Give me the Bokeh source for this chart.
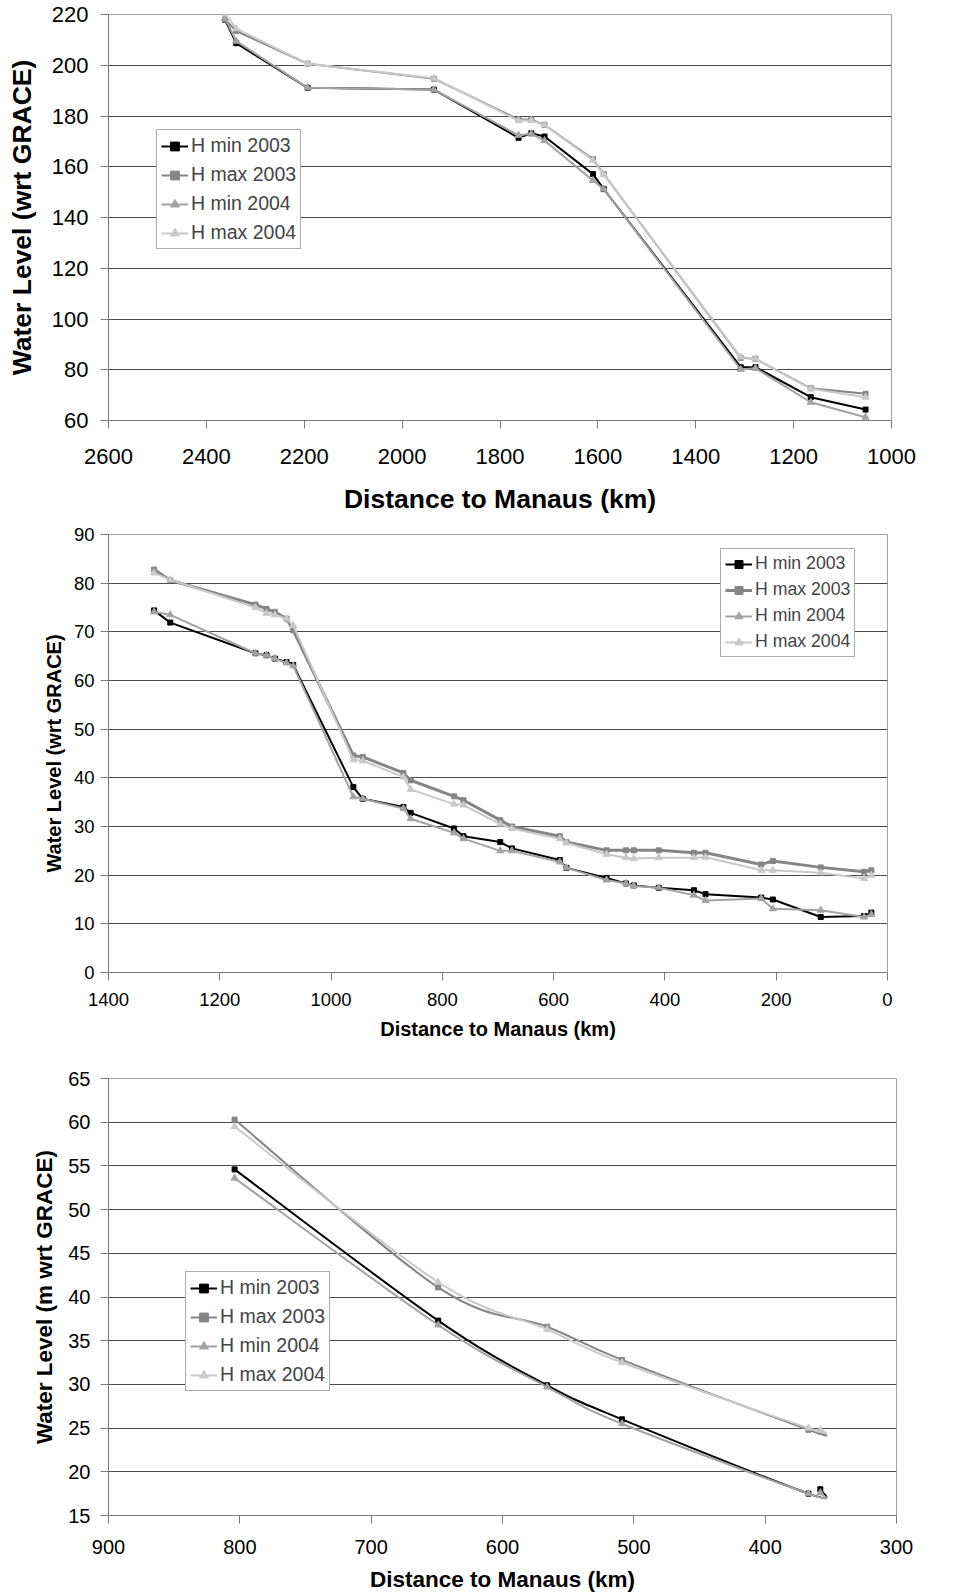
from bokeh.plotting import figure
from bokeh.models import Range1d, FixedTicker, Legend, LegendItem
from bokeh.layouts import column
from bokeh.embed import file_html
from bokeh.resources import INLINE

# ---------------- data ----------------
series_names = ["H min 2003", "H max 2003", "H min 2004", "H max 2004"]

# Panel 1 (upstream reach)
p1_dist = [2362, 2339, 2193, 1935, 1762, 1736, 1709, 1610, 1588, 1308, 1278, 1165, 1053]
p1_hmin03 = [217.9, 208.7, 191.1, 190.4, 171.4, 173.2, 171.9, 157.1, 151.2, 81.0, 81.0, 69.2, 64.3]
p1_hmax03 = [218.0, 213.5, 200.6, 194.7, 178.6, 178.6, 176.5, 163.0, 157.1, 84.7, 84.3, 72.7, 70.5]
p1_hmin04 = [218.5, 209.5, 191.1, 190.4, 172.4, 173.0, 170.3, 154.6, 151.2, 80.1, 80.6, 67.2, 61.3]
p1_hmax04 = [220.5, 214.4, 200.6, 194.9, 178.2, 178.2, 176.5, 162.6, 157.0, 85.0, 84.3, 72.5, 69.2]
p1_xticks = [2600, 2400, 2200, 2000, 1800, 1600, 1400, 1200, 1000]
p1_yticks = [60, 80, 100, 120, 140, 160, 180, 200, 220]

# Panel 2
p2_dist = [1318, 1289, 1136, 1116, 1101, 1080, 1068, 960, 943, 870, 857, 779, 762, 696,
           675, 589, 577, 505, 470, 456, 411, 348, 327, 227, 206, 120, 42, 29]
p2_hmin03 = [74.4, 71.9, 65.6, 65.2, 64.5, 63.8, 63.2, 38.1, 35.7, 34.0, 32.8, 29.6, 28.0, 26.8,
             25.5, 23.1, 21.5, 19.4, 18.3, 17.9, 17.4, 16.9, 16.1, 15.4, 15.0, 11.4, 11.6, 12.3]
p2_hmax03 = [82.8, 80.6, 75.6, 74.7, 74.1, 72.7, 70.3, 44.6, 44.3, 41.0, 39.5, 36.2, 35.4, 31.3,
             30.0, 28.0, 26.8, 25.1, 25.1, 25.1, 25.1, 24.6, 24.6, 22.2, 22.9, 21.6, 20.7, 21.0]
p2_hmin04 = [74.1, 73.5, 65.6, 65.2, 64.5, 63.6, 63.0, 36.1, 35.7, 33.7, 31.6, 28.7, 27.5, 25.0,
             25.0, 22.7, 21.5, 19.0, 18.3, 17.8, 17.4, 15.9, 14.8, 15.2, 13.1, 12.8, 11.4, 11.9]
p2_hmax04 = [82.1, 80.7, 75.0, 73.8, 73.5, 72.7, 71.3, 43.7, 43.5, 40.2, 37.6, 34.6, 34.4, 30.5,
             29.6, 27.5, 26.6, 24.3, 23.6, 23.4, 23.6, 23.6, 23.7, 21.0, 21.0, 20.5, 19.3, 20.0]
p2_xticks = [1400, 1200, 1000, 800, 600, 400, 200, 0]
p2_yticks = [0, 10, 20, 30, 40, 50, 60, 70, 80, 90]

# Panel 3
p3_dist = [804, 649, 566, 509, 367, 358]
p3_hmin03 = [54.6, 37.3, 29.9, 26.0, 17.5, 18.0]
p3_hmax03 = [60.3, 41.1, 36.6, 32.8, 24.8, 24.6]
p3_hmin04 = [53.6, 36.8, 29.7, 25.5, 17.5, 17.6]
p3_hmax04 = [59.5, 41.7, 36.3, 32.5, 25.0, 24.8]
p3_xticks = [900, 800, 700, 600, 500, 400, 300]
p3_yticks = [15, 20, 25, 30, 35, 40, 45, 50, 55, 60, 65]

# ---------------- style ----------------
FONT = "Liberation Sans"
COLORS = ["#000000", "#858585", "#a3a3a3", "#c9c9c9"]
MARKERS = ["square", "square", "triangle", "triangle"]
MSIZE = [5, 5, 7, 7]


def base_fig(width, height, xr, yr, xticks, yticks, left, right, top, bottom,
             tick_fs, title_fs, ylabel, lab_std_x, lab_std_y, ttl_std_x, ttl_std_y):
    p = figure(width=width, height=height, x_range=Range1d(*xr), y_range=Range1d(*yr),
               output_backend="svg", toolbar_location=None,
               min_border_left=left, min_border_right=right,
               min_border_top=top, min_border_bottom=bottom)
    p.background_fill_color = "white"
    p.border_fill_color = "white"
    p.outline_line_color = "#a0a0a0"
    p.outline_line_width = 1
    p.xgrid.visible = False
    p.ygrid.ticker = FixedTicker(ticks=yticks[1:-1])
    p.ygrid.grid_line_color = "#4a4a4a"
    p.ygrid.grid_line_width = 1
    p.xaxis.ticker = FixedTicker(ticks=xticks)
    p.yaxis.ticker = FixedTicker(ticks=yticks)
    for ax in (p.xaxis[0], p.yaxis[0]):
        ax.axis_line_color = "#7a7a7a"
        ax.major_tick_line_color = "#7a7a7a"
        ax.major_tick_out = 8
        ax.major_tick_in = 0
        ax.minor_tick_line_color = None
        ax.major_label_text_font = FONT
        ax.major_label_text_font_size = f"{tick_fs}px"
        ax.major_label_text_color = "black"
        ax.axis_label_text_font = FONT
        ax.axis_label_text_font_style = "bold"
        ax.axis_label_text_font_size = f"{title_fs}px"
        ax.axis_label_text_color = "black"
    p.xaxis.axis_label = "Distance to Manaus (km)"
    p.yaxis.axis_label = ylabel
    p.xaxis.major_label_standoff = lab_std_x
    p.yaxis.major_label_standoff = lab_std_y
    p.xaxis.axis_label_standoff = ttl_std_x
    p.yaxis.axis_label_standoff = ttl_std_y
    return p


def add_legend(p, line_renderers, loc, fs, row_h, spacing, glyph_w):
    items = [LegendItem(label=n, renderers=r) for n, r in zip(series_names, line_renderers)]
    leg = Legend(items=items, location=loc)
    leg.label_text_font = FONT
    leg.label_text_font_size = f"{fs}px"
    leg.label_height = row_h
    leg.glyph_height = row_h
    leg.glyph_width = glyph_w
    leg.label_standoff = 3
    leg.spacing = spacing
    leg.padding = 4
    leg.margin = 0
    leg.border_line_color = "#5a5a5a"
    leg.border_line_width = 1
    leg.background_fill_color = "white"
    leg.background_fill_alpha = 1.0
    p.add_layout(leg)


def smooth(xs, ys):
    n = len(xs)
    out = dict(x0=[], y0=[], x1=[], y1=[], cx0=[], cy0=[], cx1=[], cy1=[])
    for i in range(n - 1):
        xp, yp = (xs[i - 1], ys[i - 1]) if i > 0 else (xs[i], ys[i])
        xn, yn = (xs[i + 2], ys[i + 2]) if i + 2 < n else (xs[i + 1], ys[i + 1])
        out["x0"].append(xs[i]); out["y0"].append(ys[i])
        out["x1"].append(xs[i + 1]); out["y1"].append(ys[i + 1])
        out["cx0"].append(xs[i] + (xs[i + 1] - xp) / 6.0)
        out["cy0"].append(ys[i] + (ys[i + 1] - yp) / 6.0)
        out["cx1"].append(xs[i + 1] - (xn - xs[i]) / 6.0)
        out["cy1"].append(ys[i + 1] - (yn - ys[i]) / 6.0)
    return out


# ---------------- panel 1 ----------------
p1 = base_fig(950, 520, (2600, 1000), (60, 220), p1_xticks, p1_yticks,
              108, 39, 14, 100, 22, 26.5, "Water Level (wrt GRACE)", 20, 12, 17, 12)
p1_series = [p1_hmin03, p1_hmax03, p1_hmin04, p1_hmax04]
leg1 = []
for k, ys in enumerate(p1_series):
    lr = p1.line(p1_dist, ys, line_color=COLORS[k], line_width=2)
    sr = p1.scatter(p1_dist, ys, marker=MARKERS[k], size=MSIZE[k],
                    fill_color=COLORS[k], line_color=COLORS[k])
    leg1.append([lr, sr])
add_legend(p1, leg1, (48, 171), 19.5, 22, 6, 27)

# ---------------- panel 2 ----------------
p2 = base_fig(946, 525, (1400, 0), (0, 90), p2_xticks, p2_yticks,
              108, 59, 14, 73, 18.5, 20, "Water Level (wrt GRACE)", 12, 6, 9, 6)
p2_series = [p2_hmin03, p2_hmax03, p2_hmin04, p2_hmax04]
p2_widths = [2, 3, 2, 2]
leg2 = []
for k, ys in enumerate(p2_series):
    lr = p2.line(p2_dist, ys, line_color=COLORS[k], line_width=p2_widths[k])
    sr = p2.scatter(p2_dist, ys, marker=MARKERS[k], size=MSIZE[k],
                    fill_color=COLORS[k], line_color=COLORS[k])
    leg2.append([lr, sr])
add_legend(p2, leg2, (612, 315), 17.7, 20, 5, 27)

# ---------------- panel 3 ----------------
p3 = base_fig(955, 549, (900, 300), (15, 65), p3_xticks, p3_yticks,
              107, 20, 33, 76, 20, 22.5, "Water Level (m wrt GRACE)", 16, 10, 10, 8)
p3_series = [p3_hmin03, p3_hmax03, p3_hmin04, p3_hmax04]
leg3 = []
for k, ys in enumerate(p3_series):
    seg = smooth(p3_dist, ys)
    p3.bezier(x0=seg["x0"], y0=seg["y0"], x1=seg["x1"], y1=seg["y1"],
              cx0=seg["cx0"], cy0=seg["cy0"], cx1=seg["cx1"], cy1=seg["cy1"],
              line_color=COLORS[k], line_width=2)
    sr = p3.scatter(p3_dist, ys, marker=MARKERS[k], size=MSIZE[k],
                    fill_color=COLORS[k], line_color=COLORS[k])
    # single-point line used only as the legend's line sample
    proxy = p3.line(x=p3_dist[:1], y=ys[:1], line_color=COLORS[k], line_width=2)
    leg3.append([proxy, sr])
add_legend(p3, leg3, (77, 124), 19.5, 22, 6, 27)

layout = column(p1, p2, p3, spacing=0)
open("out.html", "w").write(file_html(layout, INLINE))
